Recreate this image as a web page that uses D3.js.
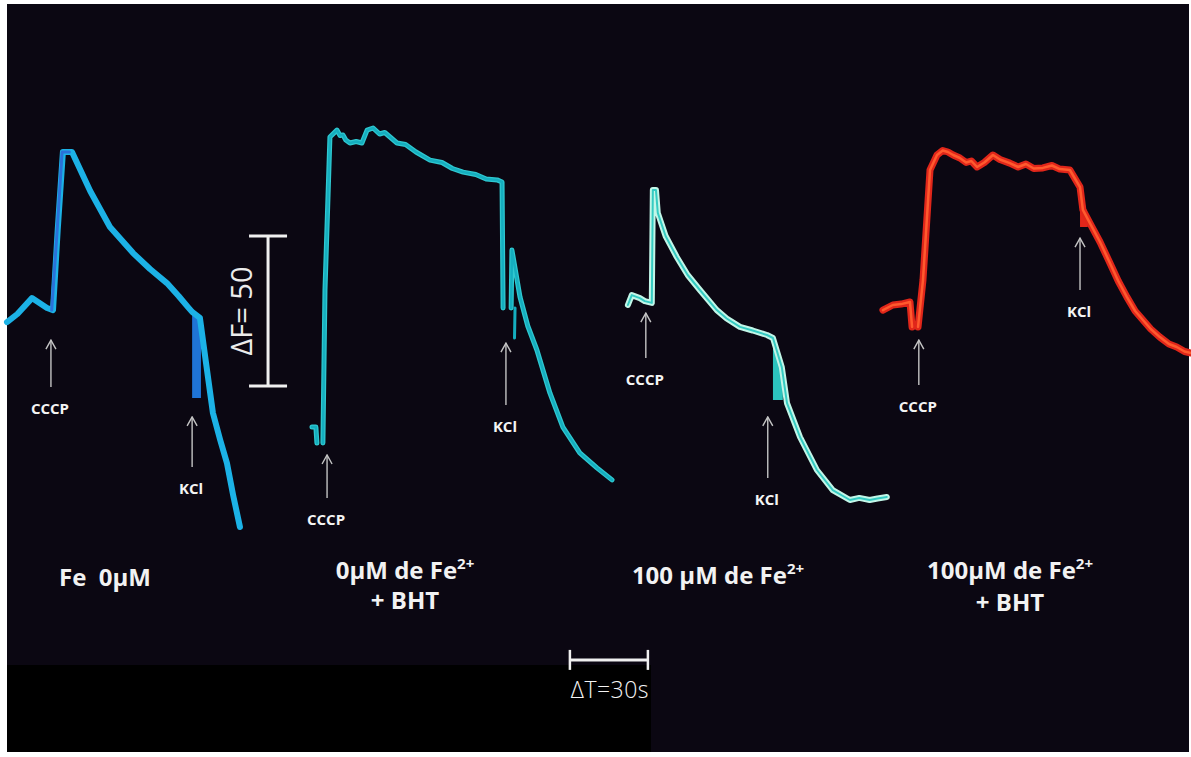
<!DOCTYPE html>
<html lang="en">
<head>
<meta charset="UTF-8">
<title>Mitochondrial membrane potential traces</title>
<script src="https://d3js.org/d3.v7.min.js"></script>
<style>
  body { margin: 0; background: #fff; }
  svg { display: block; }
  text { white-space: pre; }
</style>
</head>
<body>
<script>

// time in seconds from the start of each panel, fluorescence in arbitrary units
// null breaks the trace
var fe0Trace = [[0, 69.3], [4, 72], [9.6, 77.3], [15.4, 74], [17.7, 73.3], [19.5, 100], [21.5, 126],
    [25, 126], [32, 113], [39.6, 101], [48.5, 92.3], [55, 87], [61.5, 82.3], [66, 78], [69.6, 74.3],
    [71.2, 72.7], [74.2, 70.7], [76.5, 56], [79.2, 39], [82, 30], [84.6, 22.3], [87, 11.5], [89.6, 1]];
var fe0Rise = [[17.2, 73.3], [19.3, 100], [21.2, 126], [24, 126]];
var fe0Block = [[71.2, 44, 72.7], [74.6, 44, 71]];

var bht0Trace = [[0, 34.3], [1.5, 34.3], [1.9, 29], [2, null],
    [4.2, 29], [5, 80], [6.9, 131], [9.6, 133.3], [10.8, 131.5], [11.9, 131.7], [13, 130], [14.6, 129],
    [17, 129.5], [19.2, 129], [21.2, 133.3], [23.5, 134], [26, 132], [28, 132.5], [32.7, 129],
    [36, 128.5], [40, 126], [45.4, 123.3], [50, 122.5], [54, 120.5], [58.1, 119.3], [63, 118.5],
    [67, 117], [71.2, 116.7], [73.1, 116], [73.5, 74], [73.6, null],
    [76.6, 74], [76.9, 93.3], [80, 77.7], [83, 68], [86.5, 60], [91.5, 45.7], [96.5, 34.3],
    [103, 25.7], [109.6, 20.7], [115.4, 16.7]];
var bht0Strand = [[77.9, 64], [78.1, 74]];

var fe100Trace = [[0, 75], [1.5, 78.3], [4.6, 77.3], [6.5, 76.3], [9.2, 75.7], [9.6, 113.3],
    [10.8, 113.3], [11.5, 105.7], [14.5, 98], [18.8, 91], [23, 85], [27.7, 80], [34.2, 73.3],
    [38, 70.5], [43.1, 67.7], [48, 66.5], [53.5, 65], [55.8, 64], [59.2, 54.3], [61.2, 42.3],
    [66.2, 31], [72.7, 20], [78.8, 13.3], [85.4, 10], [89, 10.7], [93, 10], [96, 10.5], [99.6, 11]];
var fe100Block = [[55.8, 43.3, 64], [58, 43.3, 60], [58.1, 43.3, 55.7], [59.6, 43.3, 54.3]];

var fe100bhtTrace = [[0, 73.3], [3.8, 75], [7, 75.3], [10.4, 76], [11.2, 67.7], [11.3, null],
    [13.5, 67.7], [15.4, 83.3], [18.1, 120], [20.8, 125], [23, 126.5], [25, 126], [27, 125],
    [29.6, 124], [32, 122.5], [34, 123], [36.2, 121], [39, 122.5], [42.3, 125], [45, 123.5],
    [48.8, 122.3], [52, 121], [55, 122], [58, 120.5], [61.5, 120.7], [65, 121.5], [68, 120.3],
    [71.9, 120], [75.8, 114.3], [76.9, 106.7], [79.6, 102.3], [83.5, 96], [87.3, 89], [90.5, 83],
    [93.8, 77.7], [97, 73], [100, 70], [103, 67], [106.5, 64.3], [110, 62], [113, 61], [116, 59.5],
    [118.5, 59]];
var fe100bhtBlock = [[75.8, 101, 114.3], [78.8, 101, 105]];

var panelStart = [0, 117.3, 238.8, 336.9];

// injections: panel, time, arrow tip and tail
var injections = [
    {panel: 0, t: 16.9, tip: 63.3, tail: 47.7, label: "CCCP"},
    {panel: 0, t: 71.2, tip: 37.7, tail: 21, label: "KCl"},
    {panel: 1, t: 5.8, tip: 25, tail: 10.7, label: "CCCP"},
    {panel: 1, t: 74.6, tip: 62.3, tail: 41.7, label: "KCl"},
    {panel: 2, t: 6.9, tip: 72.3, tail: 57.3, label: "CCCP"},
    {panel: 2, t: 53.8, tip: 37.7, tail: 17.3, label: "KCl"},
    {panel: 3, t: 13.8, tip: 63.3, tail: 48.3, label: "CCCP"},
    {panel: 3, t: 75.8, tip: 97.3, tail: 80, label: "KCl"}
];

var conditions = [
    {x: 105, lines: [["Fe  0\u03bcM", ""]]},
    {x: 405, lines: [["0\u03bcM de Fe", "2+"], ["+ BHT", ""]]},
    {x: 718, lines: [["100 \u03bcM de Fe", "2+"]]},
    {x: 1010, lines: [["100\u03bcM de Fe", "2+"], ["+ BHT", ""]]}
];
var conditionY = [[586], [579, 609], [584], [579, 611]];

// scale bars: dF = 50 units, dT = 30 s
var dF = {t: 100.4, from: 48, to: 98};
var dT = {from: 216.5, to: 246.5, f: -43.3};

var width = 1191, height = 757;

var x = d3.scaleLinear().domain([0, 455]).range([7, 7 + 455 * 2.6]);
var y = d3.scaleLinear().domain([0, 140]).range([530, 110]);

var svg = d3.select("body").append("svg")
    .attr("width", width)
    .attr("height", height);

svg.append("rect").attr("width", width).attr("height", height).attr("fill", "#fff");
svg.append("rect").attr("x", 7).attr("y", 4).attr("width", 1182).attr("height", 748).attr("fill", "#0b0712");
svg.append("rect").attr("x", 7).attr("y", 665).attr("width", 644).attr("height", 87).attr("fill", "#000");

function lineFor(panel) {
    return d3.line()
        .defined(function(d) { return d[1] !== null; })
        .x(function(d) { return x(panelStart[panel] + d[0]); })
        .y(function(d) { return y(d[1]); });
}

function areaFor(panel) {
    return d3.area()
        .x(function(d) { return x(panelStart[panel] + d[0]); })
        .y0(function(d) { return y(d[1]); })
        .y1(function(d) { return y(d[2]); });
}

function drawTrace(panel, data, color, w) {
    svg.append("path")
        .datum(data)
        .attr("d", lineFor(panel))
        .attr("fill", "none")
        .attr("stroke", color)
        .attr("stroke-width", w)
        .attr("stroke-linejoin", "round")
        .attr("stroke-linecap", "round");
}

function drawBlock(panel, data, color) {
    svg.append("path")
        .datum(data)
        .attr("d", areaFor(panel))
        .attr("fill", color);
}

// Fe 0
drawBlock(0, fe0Block, "#1f74d6");
drawTrace(0, fe0Trace, "#1cb2e6", 6);
drawTrace(0, fe0Rise, "#2a72da", 3);

// 0 Fe + BHT
drawTrace(1, bht0Trace, "#2fc8d0", 5);
drawTrace(1, bht0Trace, "#15aebf", 2.5);
drawTrace(1, bht0Strand, "#15aebf", 3);

// 100 Fe
drawBlock(2, fe100Block, "#2cc4be");
drawTrace(2, fe100Trace, "#c2f6e8", 6);
drawTrace(2, fe100Trace, "#35cbc2", 2);

// 100 Fe + BHT
drawBlock(3, fe100bhtBlock, "#e3261a");
drawTrace(3, fe100bhtTrace, "#e0261a", 7);
drawTrace(3, fe100bhtTrace, "#ff5a2e", 2.5);

// injection arrows
svg.append("defs").append("marker")
    .attr("id", "head")
    .attr("viewBox", "-6 -1 12 11")
    .attr("refX", 0).attr("refY", 0)
    .attr("markerWidth", 12).attr("markerHeight", 11)
    .attr("markerUnits", "userSpaceOnUse")
    .attr("orient", "0")
    .append("path")
    .attr("d", "M-5,9 L0,0 L5,9")
    .attr("fill", "none")
    .attr("stroke", "#c4c4c4")
    .attr("stroke-width", 1.4);

var inj = svg.append("g").selectAll("g")
    .data(injections)
    .enter().append("g");

inj.append("line")
    .attr("x1", function(d) { return x(panelStart[d.panel] + d.t); })
    .attr("x2", function(d) { return x(panelStart[d.panel] + d.t); })
    .attr("y1", function(d) { return y(d.tip); })
    .attr("y2", function(d) { return y(d.tail); })
    .attr("stroke", "#c4c4c4")
    .attr("stroke-width", 1.4)
    .attr("marker-start", "url(#head)");

inj.append("text")
    .attr("x", function(d) { return x(panelStart[d.panel] + d.t) - 1; })
    .attr("y", function(d) { return y(d.tail) + 27; })
    .attr("text-anchor", "middle")
    .attr("fill", "#f4f4f4")
    .attr("font-family", "Open Sans, sans-serif")
    .attr("font-weight", 700)
    .attr("font-size", 15)
    .text(function(d) { return d.label; });

// condition labels
conditions.forEach(function(c, i) {
    c.lines.forEach(function(line, j) {
        var t = svg.append("text")
            .attr("x", c.x)
            .attr("y", conditionY[i][j])
            .attr("text-anchor", "middle")
            .attr("fill", "#f2f2f2")
            .attr("font-family", "Open Sans, sans-serif")
            .attr("font-weight", 700)
            .attr("font-size", 24);
        t.append("tspan").text(line[0]);
        if (line[1]) {
            t.append("tspan").attr("dy", -10).attr("font-size", 15).text(line[1]);
        }
    });
});

// dF scale bar
var fx = x(dF.t);
svg.append("line").attr("x1", fx).attr("x2", fx).attr("y1", y(dF.from)).attr("y2", y(dF.to))
    .attr("stroke", "#f0f0f0").attr("stroke-width", 3);
[dF.from, dF.to].forEach(function(v) {
    svg.append("line").attr("x1", fx - 19).attr("x2", fx + 19).attr("y1", y(v)).attr("y2", y(v))
        .attr("stroke", "#f0f0f0").attr("stroke-width", 3);
});
svg.append("text")
    .attr("transform", "translate(" + (fx - 16) + "," + y((dF.from + dF.to) / 2) + ") rotate(-90)")
    .attr("text-anchor", "middle")
    .attr("fill", "#ececec")
    .attr("font-family", "Open Sans, sans-serif")
    .attr("font-size", 29)
    .text("\u0394F= 50");

// dT scale bar
var ty = y(dT.f);
svg.append("line").attr("x1", x(dT.from)).attr("x2", x(dT.to)).attr("y1", ty).attr("y2", ty)
    .attr("stroke", "#f0f0f0").attr("stroke-width", 3);
[dT.from, dT.to].forEach(function(v) {
    svg.append("line").attr("x1", x(v)).attr("x2", x(v)).attr("y1", ty - 10).attr("y2", ty + 10)
        .attr("stroke", "#f0f0f0").attr("stroke-width", 2.5);
});
svg.append("text")
    .attr("x", (x(dT.from) + x(dT.to)) / 2 + 1)
    .attr("y", ty + 38)
    .attr("text-anchor", "middle")
    .attr("fill", "#f4f4f4")
    .attr("font-family", "Open Sans, sans-serif")
    .attr("font-weight", 300)
    .attr("font-size", 23)
    .attr("letter-spacing", 0.5)
    .text("\u0394T=30s");

</script>
</body>
</html>
